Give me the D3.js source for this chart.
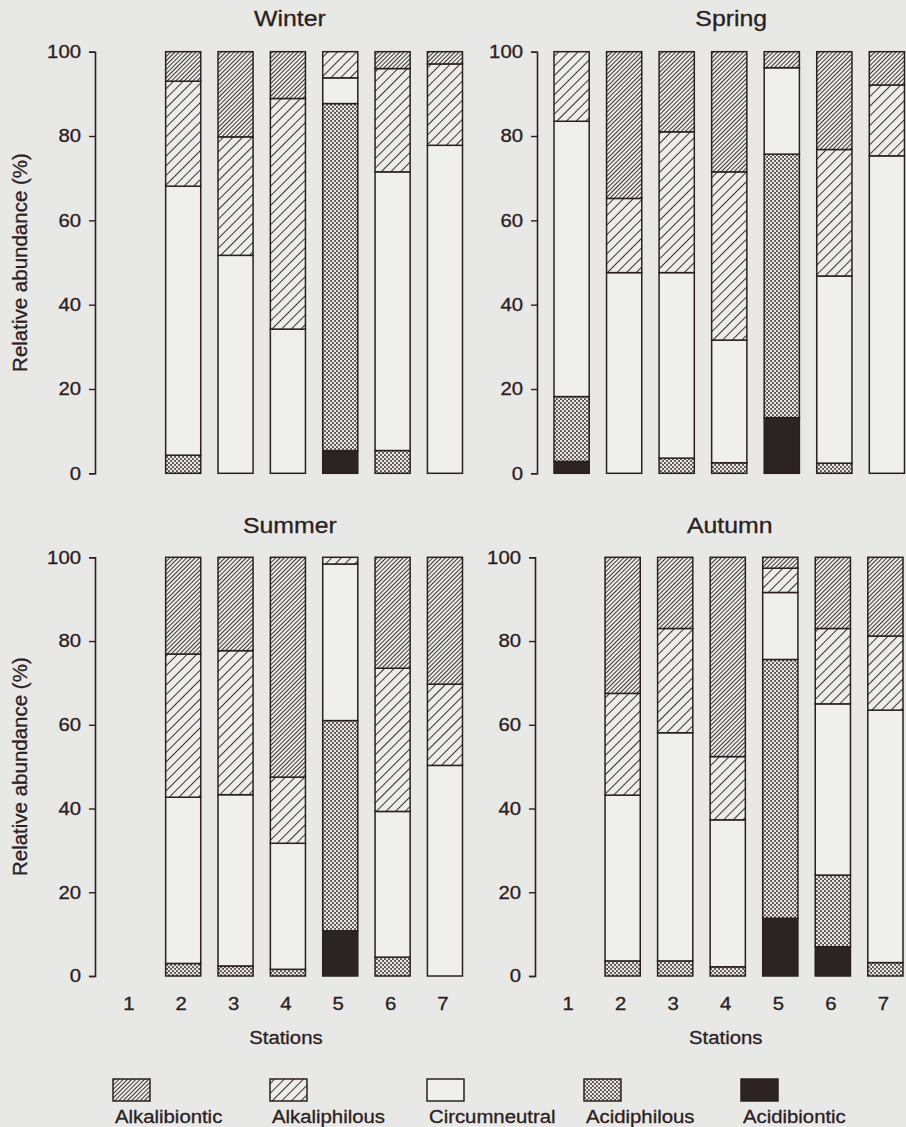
<!DOCTYPE html>
<html>
<head>
<meta charset="utf-8">
<script src="https://cdn.jsdelivr.net/npm/d3@7"></script>
<style>
  html, body { margin: 0; padding: 0; background: #e8e8e7; }
  svg { display: block; }
  text { font-family: "Liberation Sans", Arial, sans-serif; fill: #2a2020; stroke: #2a2020; stroke-width: 0.3px; }
</style>
</head>
<body>
<div id="chart"></div>
<script>
// ---------------- DATA ----------------
const stations = ["1", "2", "3", "4", "5", "6", "7"];
const seasons = ["Winter", "Spring", "Summer", "Autumn"];
// stacking order, bottom to top
const stackKeys = ["Acidibiontic", "Acidiphilous", "Circumneutral", "Alkaliphilous", "Alkalibiontic"];
// legend order
const legendKeys = ["Alkalibiontic", "Alkaliphilous", "Circumneutral", "Acidiphilous", "Acidibiontic"];
const yTicks = [0, 20, 40, 60, 80, 100];

// relative abundance (%) per station 1..7 (null = no bar)
const winterAcidibiontic  = [null, 0,    0,    0,    5.4,  0,    0];
const winterAcidiphilous  = [null, 4.3,  0,    0,    82.3, 5.4,  0];
const winterCircumneutral = [null, 63.8, 51.7, 34.2, 6.1,  66.1, 77.8];
const winterAlkaliphilous = [null, 24.9, 28.1, 54.7, 6.2,  24.5, 19.3];
const winterAlkalibiontic = [null, 7.0,  20.2, 11.1, 0,    4.0,  2.9];

const springAcidibiontic  = [2.8,  0,    0,    0,    13.2, 0,    0];
const springAcidiphilous  = [15.4, 0,    3.6,  2.5,  62.5, 2.4,  0];
const springCircumneutral = [65.3, 47.6, 44.0, 29.1, 20.5, 44.4, 75.3];
const springAlkaliphilous = [16.5, 17.6, 33.4, 39.9, 0,    30.0, 16.8];
const springAlkalibiontic = [0,    34.8, 19.0, 28.5, 3.8,  23.2, 7.9];

const summerAcidibiontic  = [null, 0,    0,    0,    10.8, 0,    0];
const summerAcidiphilous  = [null, 3.0,  2.4,  1.6,  50.2, 4.5,  0];
const summerCircumneutral = [null, 39.7, 40.9, 30.1, 37.4, 34.8, 50.3];
const summerAlkaliphilous = [null, 34.2, 34.4, 15.8, 1.6,  34.2, 19.4];
const summerAlkalibiontic = [null, 23.1, 22.3, 52.5, 0,    26.5, 30.3];

const autumnAcidibiontic  = [null, 0,    0,    0,    13.8, 7.0,  0];
const autumnAcidiphilous  = [null, 3.6,  3.6,  2.2,  61.8, 17.1, 3.2];
const autumnCircumneutral = [null, 39.6, 54.5, 35.1, 16.0, 40.9, 60.3];
const autumnAlkaliphilous = [null, 24.3, 24.9, 15.1, 5.8,  18.0, 17.7];
const autumnAlkalibiontic = [null, 32.5, 17.0, 47.6, 2.6,  17.0, 18.8];

// ---------------- BUILD TABLES ----------------
function buildRows(a, b, c, d, e) {
  return stations.map((s, i) => ({
    station: s,
    present: a[i] !== null,
    Acidibiontic: a[i] || 0,
    Acidiphilous: b[i] || 0,
    Circumneutral: c[i] || 0,
    Alkaliphilous: d[i] || 0,
    Alkalibiontic: e[i] || 0
  }));
}
const tables = {
  Winter: buildRows(winterAcidibiontic, winterAcidiphilous, winterCircumneutral, winterAlkaliphilous, winterAlkalibiontic),
  Spring: buildRows(springAcidibiontic, springAcidiphilous, springCircumneutral, springAlkaliphilous, springAlkalibiontic),
  Summer: buildRows(summerAcidibiontic, summerAcidiphilous, summerCircumneutral, summerAlkaliphilous, summerAlkalibiontic),
  Autumn: buildRows(autumnAcidibiontic, autumnAcidiphilous, autumnCircumneutral, autumnAlkaliphilous, autumnAlkalibiontic)
};

// ---------------- LAYOUT ----------------
const W = 906, H = 1127;
const INK = "#2a2020";
const SX = 1.13; // horizontal stretch of the scanned type
const layout = {
  Winter: { axisX: 95,  x0: 113.3, x1: 462.5, top: 51.7,  bottom: 473.3, titleY: 26,  xLabels: false },
  Spring: { axisX: 537, x0: 554.0, x1: 904.5, top: 51.7,  bottom: 473.3, titleY: 26,  xLabels: false },
  Summer: { axisX: 95,  x0: 113.3, x1: 462.5, top: 557.3, bottom: 976,   titleY: 533, xLabels: true },
  Autumn: { axisX: 535, x0: 552.5, x1: 903.0, top: 557.3, bottom: 976,   titleY: 533, xLabels: true }
};

const svg = d3.select("#chart").append("svg")
  .attr("width", W).attr("height", H).attr("viewBox", `0 0 ${W} ${H}`);

svg.append("rect").attr("width", W).attr("height", H).attr("fill", "#e8e8e7");

// ---------------- PATTERNS ----------------
const defs = svg.append("defs");
function hatch(id, spacing, sw) {
  const p = defs.append("pattern").attr("id", id)
    .attr("patternUnits", "userSpaceOnUse")
    .attr("width", spacing).attr("height", spacing)
    .attr("patternTransform", "rotate(45)");
  p.append("rect").attr("width", spacing).attr("height", spacing).attr("fill", "#ececea");
  p.append("line").attr("x1", spacing / 2).attr("y1", 0).attr("x2", spacing / 2).attr("y2", spacing)
    .attr("stroke", INK).attr("stroke-width", sw);
}
hatch("p-alkalibiontic", 3.0, 0.9);
hatch("p-alkaliphilous", 6.8, 0.9);
(function () {
  const p = defs.append("pattern").attr("id", "p-acidiphilous")
    .attr("patternUnits", "userSpaceOnUse").attr("width", 4).attr("height", 4);
  p.append("rect").attr("width", 4).attr("height", 4).attr("fill", "#544c4c");
  p.append("circle").attr("cx", 1).attr("cy", 1).attr("r", 1.3).attr("fill", "#e6e4e4");
  p.append("circle").attr("cx", 3).attr("cy", 3).attr("r", 1.3).attr("fill", "#e6e4e4");
})();
const fills = {
  Alkalibiontic: "url(#p-alkalibiontic)",
  Alkaliphilous: "url(#p-alkaliphilous)",
  Circumneutral: "#efefee",
  Acidiphilous: "url(#p-acidiphilous)",
  Acidibiontic: "#2c2424"
};

const stack = d3.stack().keys(stackKeys);

// ---------------- PANELS ----------------
seasons.forEach(season => {
  const L = layout[season];
  const rows = tables[season];
  const x = d3.scaleBand().domain(stations).range([L.x0, L.x1]).paddingInner(0.33).paddingOuter(0);
  const y = d3.scaleLinear().domain([0, 100]).range([L.bottom, L.top]);
  const g = svg.append("g");

  // title
  g.append("text")
    .attr("transform", `translate(${x("4") + x.bandwidth() / 2 + 2},${L.titleY}) scale(${SX},1)`)
    .attr("text-anchor", "middle").attr("font-size", 22).text(season);

  // bars
  const series = stack(rows);
  series.forEach(s => {
    g.append("g").selectAll("rect")
      .data(s.filter(d => d.data.present && d[1] - d[0] > 0))
      .join("rect")
      .attr("x", d => x(d.data.station))
      .attr("width", x.bandwidth())
      .attr("y", d => y(d[1]))
      .attr("height", d => y(d[0]) - y(d[1]))
      .attr("fill", fills[s.key])
      .attr("stroke", INK).attr("stroke-width", 1.5);
  });

  // y axis
  const ax = g.append("g").attr("transform", `translate(${L.axisX},0)`)
    .call(d3.axisLeft(y).tickValues(yTicks).tickSize(6).tickSizeOuter(6).tickPadding(8));
  ax.select(".domain").attr("stroke", INK).attr("stroke-width", 1.6);
  ax.selectAll(".tick line").attr("stroke", INK).attr("stroke-width", 1.4);
  ax.selectAll(".tick text")
    .attr("font-size", 18).attr("font-family", "Liberation Sans, Arial, sans-serif")
    .attr("fill", INK)
    .attr("x", -14 / SX).attr("transform", `scale(${SX},1)`);

  // y label
  if (L.axisX < 300) {
    g.append("text")
      .attr("transform", `translate(${L.axisX - 68},${(L.top + L.bottom) / 2}) rotate(-90)`)
      .attr("text-anchor", "middle").attr("font-size", 20.5)
      .text("Relative abundance (%)");
  }

  // x labels
  if (L.xLabels) {
    const xa = g.append("g").attr("transform", `translate(0,${L.bottom + 34})`)
      .call(d3.axisBottom(x).tickSize(0).tickPadding(0));
    xa.select(".domain").remove();
    xa.selectAll(".tick text")
      .attr("font-size", 18).attr("font-family", "Liberation Sans, Arial, sans-serif")
      .attr("fill", INK).attr("dy", 0)
      .attr("transform", `translate(-2,0) scale(${SX},1)`);
    g.append("text")
      .attr("transform", `translate(${x("4") + x.bandwidth() / 2 - 2},${L.bottom + 68}) scale(${SX},1)`)
      .attr("text-anchor", "middle").attr("font-size", 18).text("Stations");
  }
});

// ---------------- LEGEND ----------------
const lx = d3.scalePoint().domain(legendKeys).range([113, 741]);
const lg = svg.append("g").selectAll("g").data(legendKeys).join("g")
  .attr("transform", d => `translate(${lx(d)},1079)`);
lg.append("rect").attr("width", 37).attr("height", 22)
  .attr("fill", d => fills[d]).attr("stroke", INK).attr("stroke-width", 1.5);
lg.append("text").attr("transform", `translate(2,44) scale(${SX},1)`)
  .attr("font-size", 18).text(d => d);
</script>
</body>
</html>
